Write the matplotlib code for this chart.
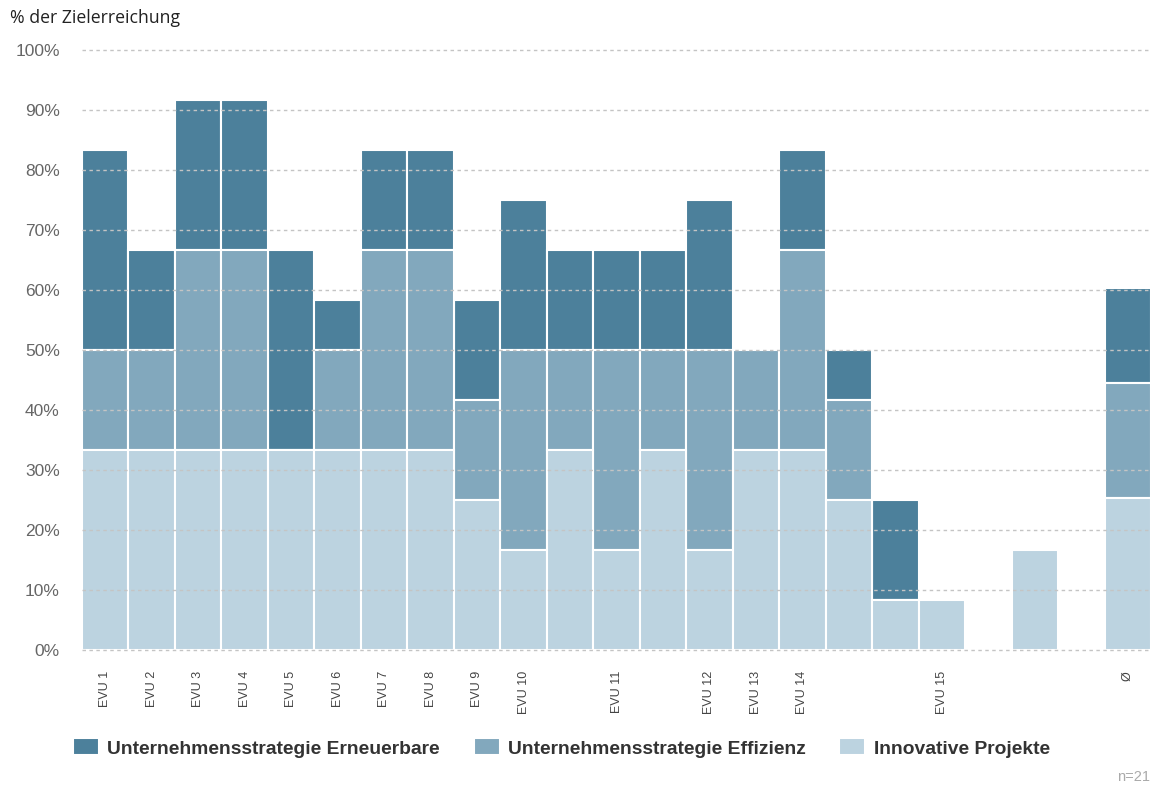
import numpy as np
import matplotlib.pyplot as plt

# slot labels (empty strings = unlabelled bars)
labels = ['EVU 1', 'EVU 2', 'EVU 3', 'EVU 4', 'EVU 5', 'EVU 6', 'EVU 7', 'EVU 8',
          'EVU 9', 'EVU 10', '', 'EVU 11', '', 'EVU 12', 'EVU 13', 'EVU 14',
          '', '', 'EVU 15', '', '', '', 'Ø']

# values in % of goal achievement
innovative = [33.3, 33.3, 33.3, 33.3, 33.3, 33.3, 33.3, 33.3, 25.0, 16.7, 33.3, 16.7,
              33.3, 16.7, 33.3, 33.3, 25.0, 8.3, 8.3, 0.0, 16.7, 0.0, 25.4]
effizienz = [16.7, 16.7, 33.3, 33.3, 0.0, 16.7, 33.3, 33.3, 16.7, 33.3, 16.7, 33.3,
             16.7, 33.3, 16.7, 33.3, 16.7, 0.0, 0.0, 0.0, 0.0, 0.0, 19.1]
erneuerbare = [33.3, 16.7, 25.0, 25.0, 33.3, 8.3, 16.7, 16.7, 16.7, 25.0, 16.7, 16.7,
               16.7, 25.0, 0.0, 16.7, 8.3, 16.7, 0.0, 0.0, 0.0, 0.0, 15.8]

series_names = ['Unternehmensstrategie Erneuerbare', 'Unternehmensstrategie Effizienz',
                'Innovative Projekte']
colors = ['#4c809b', '#82a8bd', '#bcd3e0']

plt.rcParams['font.family'] = ['Liberation Sans', 'DejaVu Sans']

fig = plt.figure(figsize=(11.54, 7.87), dpi=100)
ax = fig.add_axes([82 / 1154, 137 / 787, (1151 - 82) / 1154, 600 / 787])

x = np.arange(len(labels))
inn = np.array(innovative)
eff = np.array(effizienz)
ern = np.array(erneuerbare)

ax.bar(x, ern, 1.0, bottom=inn + eff, color=colors[0], edgecolor='white', linewidth=1.5,
       label=series_names[0], zorder=2)
ax.bar(x, eff, 1.0, bottom=inn, color=colors[1], edgecolor='white', linewidth=1.5,
       label=series_names[1], zorder=2)
ax.bar(x, inn, 1.0, color=colors[2], edgecolor='white', linewidth=1.5,
       label=series_names[2], zorder=2)

ax.set_xlim(-0.5, len(labels) - 0.5)
ax.set_ylim(0, 100)
ax.set_yticks(np.arange(0, 101, 10))
ax.set_yticklabels([f'{v}%' for v in range(0, 101, 10)], fontsize=12.5, color='#666666')
ax.set_xticks(x)
ax.set_xticklabels(labels, rotation=90, fontsize=9, color='#444444', va='top')
ax.tick_params(axis='both', length=0)
ax.tick_params(axis='x', pad=15)
ax.tick_params(axis='y', pad=16)

for yv in range(0, 101, 10):
    ax.axhline(yv, color='#c4c4c4', linewidth=1, linestyle=(0, (2.5, 2.5)), zorder=3,
               clip_on=False)

for s in ax.spines.values():
    s.set_visible(False)

fig.text(10 / 1154, 1 - 18 / 787, '% der Zielerreichung', fontsize=12.7, family='Open Sans',
         color='#222222', va='center', ha='left')
fig.text(1150 / 1154, 1 - 777 / 787, 'n=21', fontsize=10.5, color='#aaaaaa',
         ha='right', va='center')

leg = fig.legend(loc='center left', bbox_to_anchor=(73 / 1154, 1 - 748 / 787), ncol=3,
                 frameon=False, prop={'weight': 'bold', 'size': 13.9},
                 handlelength=1.35, handleheight=0.98, handletextpad=0.42,
                 columnspacing=1.75, borderaxespad=0, borderpad=0)
for t in leg.get_texts():
    t.set_color('#333333')

fig.savefig('out.png', dpi=100)
